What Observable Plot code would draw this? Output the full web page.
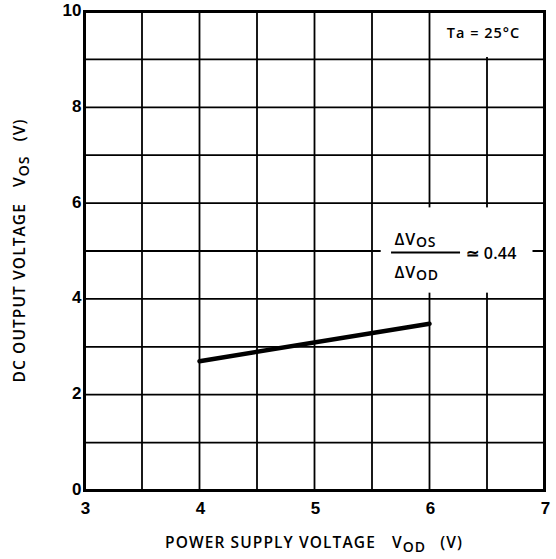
<!DOCTYPE html>
<html>
<head>
<meta charset="utf-8">
<script src="https://cdn.jsdelivr.net/npm/d3@7"></script>
<script src="https://cdn.jsdelivr.net/npm/@observablehq/plot@0.6"></script>
<style>
  html, body { margin: 0; padding: 0; background: #fff; }
  svg { display: block; }
</style>
</head>
<body>
<div id="chart"></div>
<script>
// Data
const supplyVoltage = [4, 6];          // V_OD (V)
const outputVoltage = [2.7, 3.48];     // V_OS (V)
const xTicks = [3, 4, 5, 6, 7];
const yTicks = [0, 2, 4, 6, 8, 10];
const xGrid = [3.5, 4, 4.5, 5, 5.5, 6, 6.5];
const yGrid = [1, 2, 3, 4, 5, 6, 7, 8, 9];
const tempLabel = "Ta = 25°C";
const ratioLabel = "≃ 0.44";

const lineData = supplyVoltage.map((v, i) => ({x: v, y: outputVoltage[i]}));
const FONT = "Liberation Sans, Arial, sans-serif";
const TFONT = "'Open Sans', 'Liberation Sans', sans-serif";

const plot = Plot.plot({
  width: 556,
  height: 559,
  marginLeft: 84,
  marginRight: 12,
  marginTop: 11,
  marginBottom: 69,
  style: {fontFamily: FONT, background: "#fff", color: "#000"},
  x: {domain: [3, 7]},
  y: {domain: [0, 10]},
  marks: [
    Plot.ruleX(xGrid, {stroke: "#000", strokeWidth: 1.8}),
    Plot.ruleY(yGrid, {stroke: "#000", strokeWidth: 1.8}),
    // white annotation boxes covering the grid
    Plot.rect([0], {x1: 6.04, x2: 6.96, y1: 9.04, y2: 9.96, fill: "#fff"}),
    Plot.rect([0], {x1: 5.58, x2: 6.9, y1: 4.12, y2: 5.9, fill: "#fff"}),
    Plot.frame({stroke: "#000", strokeWidth: 3}),
    Plot.line(lineData, {x: "x", y: "y", stroke: "#000", strokeWidth: 4.5}),
    Plot.axisX({ticks: xTicks, tickFormat: d => String(d), tickSize: 0, tickPadding: 11, label: null,
      fontSize: 17, fontWeight: "bold", fill: "#000", dx: 1}),
    Plot.axisY({ticks: yTicks, tickFormat: d => String(d), tickSize: 0, tickPadding: 3, label: null,
      fontSize: 17, fontWeight: "bold", fill: "#000", dy: -1}),
    Plot.text([tempLabel], {x: 6.47, y: 9.55, text: d => d, fontSize: 14.5,
      fontFamily: TFONT, fontWeight: 600, fill: "#000", textAnchor: "middle"}),
    Plot.ruleY([4.97], {x1: 5.67, x2: 6.27, stroke: "#000", strokeWidth: 2}),
    Plot.text([ratioLabel], {x: 6.32, y: 4.93, text: d => d, fontSize: 16,
      fontFamily: TFONT, fontWeight: 600, fill: "#000", textAnchor: "start"})
  ]
});

const sx = plot.scale("x"), sy = plot.scale("y");
const svg = d3.select(plot);
svg.selectAll("g[aria-label='text'] text")
  .filter(function() { return this.textContent === tempLabel; })
  .style("letter-spacing", "1px");
svg.selectAll("g[aria-label='text'] text")
  .filter(function() { return this.textContent === ratioLabel; })
  .style("letter-spacing", "0.2px");

function subLabel(sel, main, sub, tail, subFs, gap1, gap2) {
  sel.append("tspan").text(main);
  sel.append("tspan").attr("dx", gap1).text("V");
  sel.append("tspan").attr("font-size", subFs).attr("dy", 4).text(sub);
  sel.append("tspan").attr("dx", gap2).attr("dy", -4).text(tail);
}

// x-axis title
const xt = svg.append("text")
  .attr("x", sx.apply(5)).attr("y", sy.apply(0) + 58)
  .attr("text-anchor", "middle").attr("font-size", 15.5)
  .attr("font-family", TFONT).attr("font-weight", 600)
  .style("letter-spacing", "1.1px");
subLabel(xt, "POWER SUPPLY VOLTAGE", "OD", "(V)", 14, 16, 14);

// y-axis title
const yt = svg.append("text")
  .attr("transform", `translate(25,${sy.apply(5)}) rotate(-90)`)
  .attr("text-anchor", "middle").attr("font-size", 15.5)
  .attr("font-family", TFONT).attr("font-weight", 600)
  .style("letter-spacing", "1.1px");
subLabel(yt, "DC OUTPUT VOLTAGE", "OS", "(V)", 14, 16, 14);

// fraction ΔV_OS / ΔV_OD
function delta(xv, yv, sub) {
  const t = svg.append("text")
    .attr("x", sx.apply(xv)).attr("y", sy.apply(yv))
    .attr("text-anchor", "start")
    .attr("font-size", 16).attr("font-family", TFONT).attr("font-weight", 600)
    .style("letter-spacing", "0.8px");
  t.append("tspan").text("ΔV");
  t.append("tspan").attr("font-size", 14).attr("dy", 2).text(sub);
}
delta(5.70, 5.11, "OS");
delta(5.70, 4.43, "OD");

document.getElementById("chart").appendChild(plot);
</script>
</body>
</html>
